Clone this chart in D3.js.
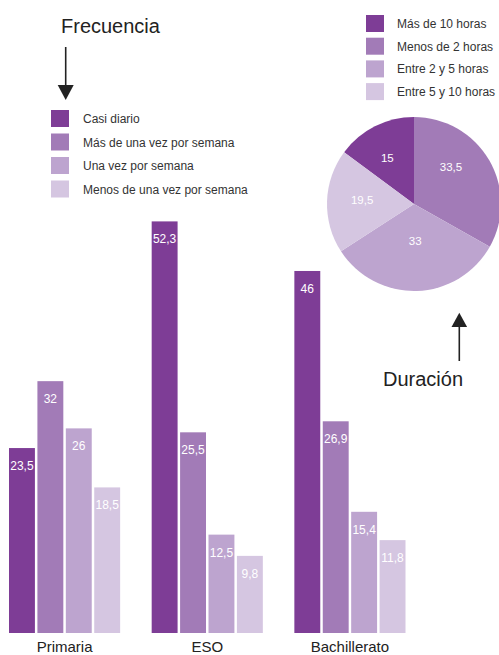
<!DOCTYPE html>
<html>
<head>
<meta charset="utf-8">
<script src="https://cdn.jsdelivr.net/npm/d3@7"></script>
<style>
  html, body { margin: 0; padding: 0; background: #fff; }
  svg { display: block; font-family: "Liberation Sans", Arial, Helvetica, sans-serif; }
</style>
</head>
<body>
<svg id="chart" width="499" height="655"></svg>
<script>
// Niveles educativos (grupos de barras)
const levels = ["Primaria", "ESO", "Bachillerato"];
// Frecuencia de uso (series)
const frequencies = ["Casi diario", "Más de una vez por semana", "Una vez por semana", "Menos de una vez por semana"];
const casiDiario = [23.5, 52.3, 46];
const masDeUnaVez = [32, 25.5, 26.9];
const unaVez = [26, 12.5, 15.4];
const menosDeUnaVez = [18.5, 9.8, 11.8];

// Duración de las sesiones (tarta)
const durations = ["Más de 10 horas", "Menos de 2 horas", "Entre 2 y 5 horas", "Entre 5 y 10 horas"];
const durationValues = [15, 33.5, 33, 19.5];

const purples = ["#7e3d96", "#a27bb7", "#bda4cf", "#d5c6e1"];
const fmt = v => String(v).replace(".", ",");

const svg = d3.select("#chart");

// ---- Barras agrupadas ----
const seriesValues = [casiDiario, masDeUnaVez, unaVez, menosDeUnaVez];
const rows = levels.map((lvl, i) => ({
  level: lvl,
  values: frequencies.map((f, j) => ({ key: f, idx: j, value: seriesValues[j][i] }))
}));

const x0 = d3.scaleBand().domain(levels).range([9, 405.5]).paddingInner(0.221).paddingOuter(0);
const x1 = d3.scaleBand().domain(frequencies).range([0, x0.bandwidth()]).paddingInner(0.088).paddingOuter(0);
const y = d3.scaleLinear().domain([0, 60]).range([633, 160.8]);

const groups = svg.append("g").selectAll("g")
  .data(rows).join("g")
  .attr("transform", d => `translate(${x0(d.level)},0)`);

groups.selectAll("rect")
  .data(d => d.values).join("rect")
  .attr("x", d => x1(d.key))
  .attr("y", d => y(d.value))
  .attr("width", x1.bandwidth())
  .attr("height", d => y(0) - y(d.value))
  .attr("fill", d => purples[d.idx]);

groups.selectAll("text")
  .data(d => d.values).join("text")
  .attr("x", d => x1(d.key) + x1.bandwidth() / 2)
  .attr("y", d => y(d.value) + 22)
  .attr("text-anchor", "middle")
  .attr("font-size", 12)
  .attr("fill", "#fff")
  .text(d => fmt(d.value));

// Etiquetas de nivel
const xAxis = svg.append("g")
  .attr("transform", `translate(0,${y(0)})`)
  .call(d3.axisBottom(x0).tickSize(0).tickPadding(5));
xAxis.select(".domain").remove();
xAxis.selectAll("text")
  .attr("font-size", 15)
  .attr("font-family", "\"Liberation Sans\", Arial, sans-serif")
  .attr("fill", "#222")
  .attr("dy", "0.95em");

// ---- Leyenda de frecuencia ----
const leg1 = svg.append("g").attr("transform", "translate(51,110)");
const l1 = leg1.selectAll("g").data(frequencies).join("g")
  .attr("transform", (d, i) => `translate(0,${i * 23.5})`);
l1.append("rect").attr("width", 18).attr("height", 17).attr("fill", (d, i) => purples[i]);
l1.append("text").attr("x", 32).attr("y", 13).attr("font-size", 12).attr("fill", "#333").text(d => d);

// Título "Frecuencia" con flecha hacia abajo
svg.append("text").attr("x", 61).attr("y", 33).attr("font-size", 20).attr("fill", "#222").text("Frecuencia");
svg.append("line").attr("x1", 65.7).attr("x2", 65.7).attr("y1", 47).attr("y2", 88)
  .attr("stroke", "#222").attr("stroke-width", 1.6);
svg.append("path").attr("d", "M57.7,85 L73.7,85 L65.7,100 Z").attr("fill", "#222");

// ---- Tarta de duración ----
const cx = 414, cy = 204, R = 87;
const startA = -2 * Math.PI * durationValues[0] / d3.sum(durationValues);
const pie = d3.pie().sort(null).startAngle(startA).endAngle(startA + 2 * Math.PI);
const arcs = pie(durationValues);
const arc = d3.arc().innerRadius(0).outerRadius(R);
const pieG = svg.append("g").attr("transform", `translate(${cx},${cy})`);
pieG.selectAll("path").data(arcs).join("path")
  .attr("d", arc)
  .attr("fill", (d, i) => purples[i]);

const labelRadius = [53, 52, 37, 52];
const labelTurn = [-0.06, -0.25, 0, 0.04];
pieG.selectAll("text").data(arcs).join("text")
  .attr("transform", (d, i) => {
    const a = (d.startAngle + d.endAngle) / 2 + labelTurn[i];
    const r = labelRadius[i];
    return `translate(${r * Math.sin(a)},${-r * Math.cos(a) + 4})`;
  })
  .attr("text-anchor", "middle")
  .attr("font-size", 11.5)
  .attr("fill", "#fff")
  .text(d => fmt(d.data));

// Leyenda de duración
const leg2 = svg.append("g").attr("transform", "translate(366,15)");
const l2 = leg2.selectAll("g").data(durations).join("g")
  .attr("transform", (d, i) => `translate(0,${i * 22.7})`);
l2.append("rect").attr("width", 18).attr("height", 17).attr("fill", (d, i) => purples[i]);
l2.append("text").attr("x", 31).attr("y", 13).attr("font-size", 12).attr("fill", "#333").text(d => d);

// Título "Duración" con flecha hacia arriba
svg.append("text").attr("x", 383).attr("y", 386).attr("font-size", 20).attr("fill", "#222").text("Duración");
svg.append("line").attr("x1", 459.3).attr("x2", 459.3).attr("y1", 325).attr("y2", 361)
  .attr("stroke", "#222").attr("stroke-width", 1.6);
svg.append("path").attr("d", "M451.5,327 L467.1,327 L459.3,312.7 Z").attr("fill", "#222");
</script>
</body>
</html>
